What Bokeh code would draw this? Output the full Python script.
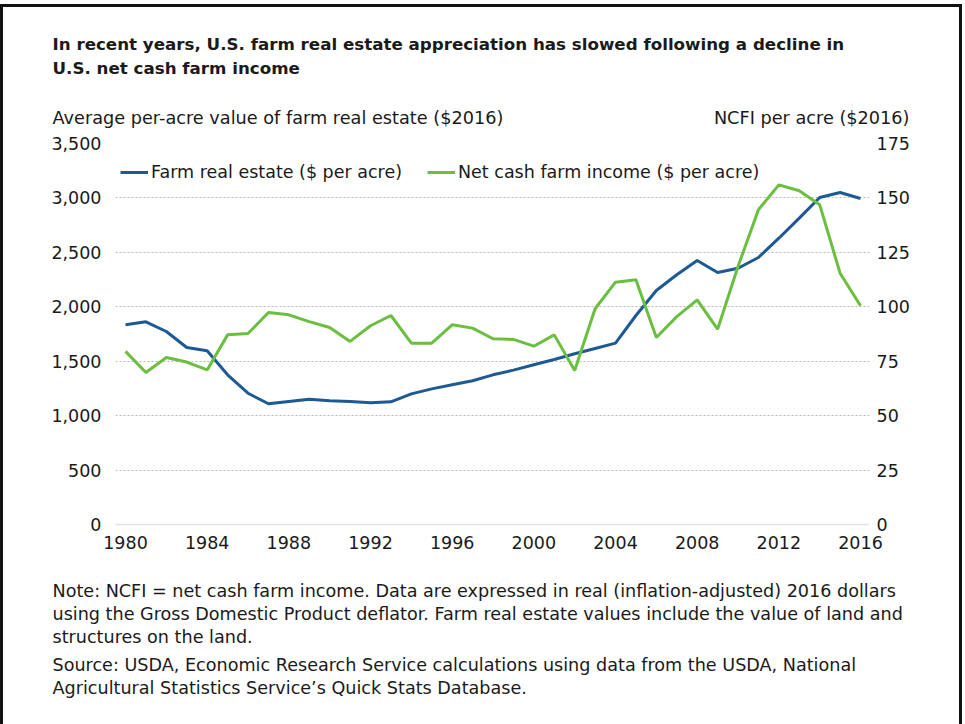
from bokeh.plotting import figure
from bokeh.layouts import column
from bokeh.models import (Range1d, LinearAxis, FixedTicker, NumeralTickFormatter,
                          Label, Legend, LegendItem)
from bokeh.embed import file_html
from bokeh.resources import INLINE

# ---------------- data ----------------
years = list(range(1980, 2017))
farm_real_estate = [1835, 1862, 1773, 1626, 1596, 1375, 1206, 1109, 1130, 1151,
                    1136, 1130, 1118, 1127, 1200, 1246, 1283, 1320, 1375, 1418,
                    1468, 1516, 1568, 1617, 1666, 1920, 2150, 2294, 2425, 2315,
                    2354, 2453, 2630, 2814, 3004, 3050, 2995]
ncfi = [79.5, 69.8, 76.7, 74.6, 71.0, 87.1, 87.7, 97.4, 96.3, 93.2,
        90.5, 84.1, 91.3, 96.0, 83.3, 83.3, 91.7, 90.2, 85.3, 85.0,
        81.9, 87.1, 70.7, 99.1, 111.3, 112.4, 85.9, 95.5, 103.2, 89.7,
        118.5, 144.6, 156.0, 153.3, 146.9, 115.4, 100.5]
x_ticks = list(range(1980, 2017, 4))
left_ticks = list(range(0, 3501, 500))
right_ticks = list(range(0, 176, 25))

title_lines = ["In recent years, U.S. farm real estate appreciation has slowed following a decline in",
               "U.S. net cash farm income"]
left_title = "Average per-acre value of farm real estate ($2016)"
right_title = "NCFI per acre ($2016)"
series_names = ["Farm real estate ($ per acre)", "Net cash farm income ($ per acre)"]
note_lines = ["Note: NCFI = net cash farm income. Data are expressed in real (inflation-adjusted) 2016 dollars",
              "using the Gross Domestic Product deflator. Farm real estate values include the value of land and",
              "structures on the land.",
              "Source: USDA, Economic Research Service calculations using data from the USDA, National",
              "Agricultural Statistics Service\u2019s Quick Stats Database."]

BLUE = "#1d5a93"
GREEN = "#6abf40"
TXT = "#1a1a1a"
FONT = "DejaVu Sans"

# page geometry (px)
OX, OY = 3, 7          # content origin inside the black border
CW = 956               # content width
TOP_H = 126            # title block height  (canvas y 7 .. 133)
MID_TOP = OY + TOP_H   # 133
MID_BOTTOM = 560
BOT_H = 170
FL, FR, FT, FB = 115, 869, 143, 524   # chart frame edges (canvas px)
BASE_FIX = 7           # measured offset of rendered baselines


def text_figure(height):
    f = figure(width=CW, height=height, output_backend="svg", toolbar_location=None,
               x_range=Range1d(0, CW), y_range=Range1d(height, 0),
               x_axis_type=None, y_axis_type=None, frame_align=False,
               min_border=0, min_border_left=0, min_border_right=0,
               min_border_top=0, min_border_bottom=0)
    f.grid.visible = False
    f.outline_line_color = None
    f.background_fill_color = "white"
    f.border_fill_color = "white"
    return f


def add_text(f, x, y, text, size, align="left", bold=False, font=FONT):
    f.add_layout(Label(x=x, y=y - BASE_FIX, text=text, text_font=font, text_font_size=size,
                       text_color=TXT, text_font_style="bold" if bold else "normal",
                       text_baseline="alphabetic", text_align=align))


# ---------- header ----------
top = text_figure(TOP_H)
for i, line in enumerate(title_lines):
    add_text(top, 52 - OX, 50 + 24 * i - OY, line, "16.7px", bold=True)
add_text(top, 52 - OX, 124 - OY, left_title, "17.7px")
add_text(top, 909 - OX, 124 - OY, right_title, "17.7px", align="right")

# ---------- chart ----------
X0, X1 = 1979.51, 2016.44
p = figure(width=CW, height=MID_BOTTOM - MID_TOP, output_backend="svg", toolbar_location=None,
           x_range=Range1d(X0, X1), y_range=Range1d(0, 3500), frame_align=False,
           min_border_left=FL - OX, min_border_right=OX + CW - FR,
           min_border_top=FT - MID_TOP, min_border_bottom=MID_BOTTOM - FB)
p.extra_y_ranges = {"ncfi": Range1d(0, 175)}
p.outline_line_color = None
p.background_fill_color = "white"
p.border_fill_color = "white"

r1 = p.line(years, farm_real_estate, line_color=BLUE, line_width=3)
r2 = p.line(years, ncfi, line_color=GREEN, line_width=3, y_range_name="ncfi")

p.xaxis.ticker = FixedTicker(ticks=x_ticks)
p.yaxis.ticker = FixedTicker(ticks=left_ticks)
p.yaxis.formatter = NumeralTickFormatter(format="0,0")
ax_r = LinearAxis(y_range_name="ncfi", ticker=FixedTicker(ticks=right_ticks))
p.add_layout(ax_r, "right")

for ax in [p.xaxis[0], p.yaxis[0], ax_r]:
    ax.major_tick_line_color = None
    ax.minor_tick_line_color = None
    ax.major_tick_out = 0
    ax.major_tick_in = 0
    ax.minor_tick_out = 0
    ax.minor_tick_in = 0
    ax.major_label_text_font = FONT
    ax.major_label_text_font_size = "17.5px"
    ax.major_label_text_color = TXT
    ax.axis_line_color = None
p.xaxis.axis_line_color = "#e2e2e2"
p.xaxis.axis_line_width = 1.5
p.xaxis.major_label_standoff = 11
p.yaxis[0].major_label_standoff = 14
ax_r.major_label_standoff = 7

p.xgrid.visible = False
p.ygrid.grid_line_color = "#b9b9b9"
p.ygrid.grid_line_dash = "2 2"
p.ygrid.grid_line_width = 1

legend = Legend(items=[LegendItem(label=series_names[0], renderers=[r1]),
                       LegendItem(label=series_names[1], renderers=[r2])],
                orientation="horizontal", location=(5, 342),
                label_text_font=FONT, label_text_font_size="17.5px", label_text_color=TXT,
                glyph_width=28, glyph_height=20, label_standoff=3, spacing=25,
                padding=0, margin=0, border_line_color=None, background_fill_alpha=0)
p.add_layout(legend)

# ---------- notes ----------
bot = text_figure(BOT_H)
note_baselines = [597, 620, 643, 671, 694]
for line, b in zip(note_lines, note_baselines):
    add_text(bot, 52 - OX, b - MID_BOTTOM, line, "17.6px")

page = column(top, p, bot, spacing=0, margin=(OY - 3, 0, 0, OX - 3),
              styles={"border": "3px solid #111111", "background-color": "white"})

open("out.html", "w").write(file_html(page, INLINE))
